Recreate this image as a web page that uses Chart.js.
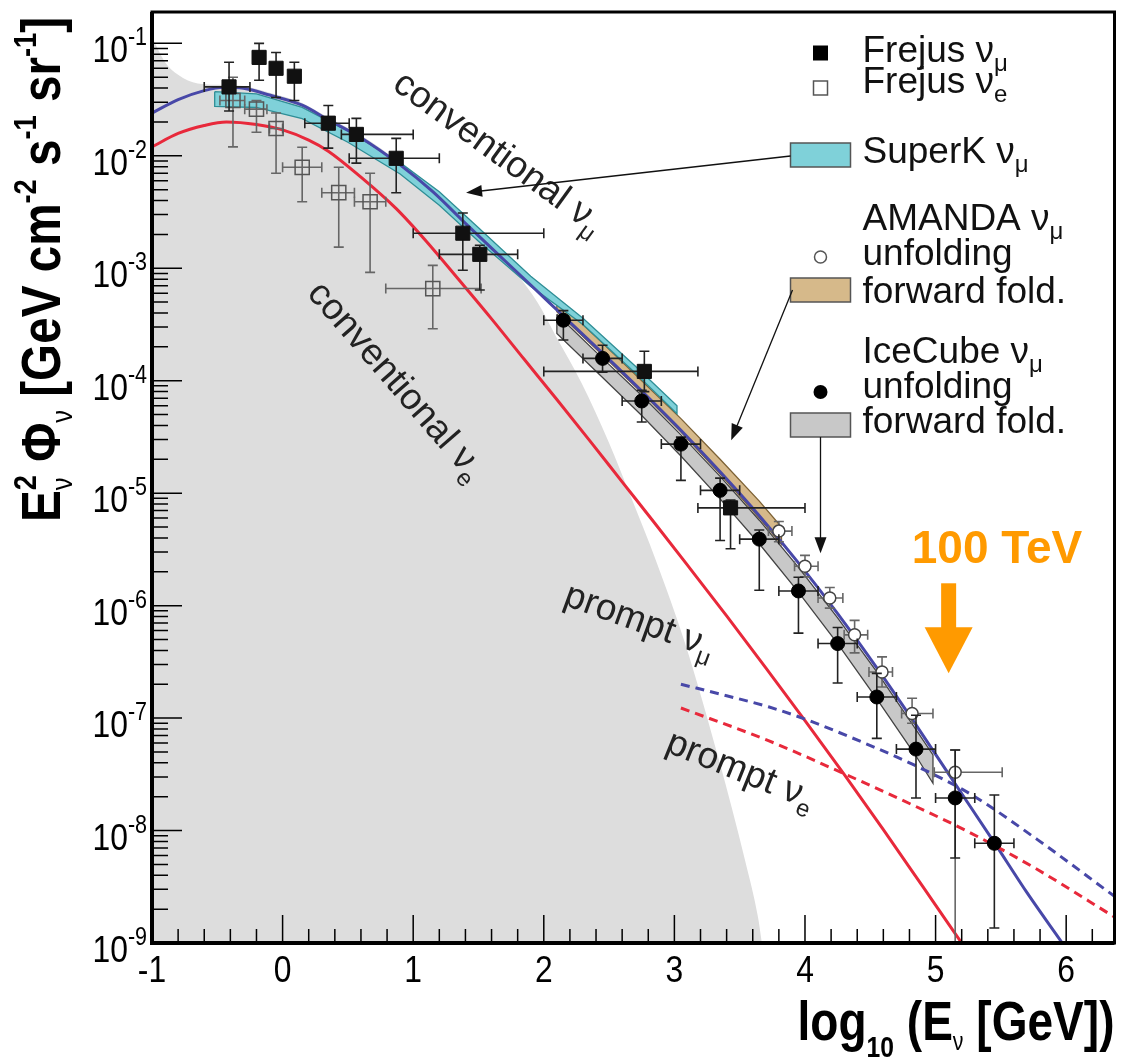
<!DOCTYPE html>
<html>
<head>
<meta charset="utf-8">
<title>Atmospheric neutrino spectrum</title>
<script src="https://cdn.jsdelivr.net/npm/chart.js@4.4.1/dist/chart.umd.min.js"></script>
<style>
  html, body { margin: 0; padding: 0; background: #fff; }
  canvas { display: block; }
</style>
</head>
<body>
<canvas id="nuSpectrum" width="1126" height="1059"></canvas>
<script>
// x: log10(E / GeV), y: E^2 * flux  [GeV cm^-2 s^-1 sr^-1]

// conventional nu_mu (blue) and nu_e (red) model curves
const convMuE = [-1.0, -0.8, -0.6, -0.45, -0.3, -0.1, 0.15, 0.35, 0.6, 0.9, 1.15, 1.4, 1.65, 1.9, 2.15, 2.45, 2.75, 3.05, 3.35, 3.65, 3.95, 4.25, 4.55, 4.85, 5.15, 5.45, 5.7, 5.97];
const convMuFlux = [2.4e-2, 3.16e-2, 3.8e-2, 4.07e-2, 3.98e-2, 3.47e-2, 2.82e-2, 2.09e-2, 1.45e-2, 8.3e-3, 4.8e-3, 2.51e-3, 1.33e-3, 7.1e-4, 3.76e-4, 1.76e-4, 8.1e-5, 3.63e-5, 1.55e-5, 6.3e-6, 2.4e-6, 8.5e-7, 2.8e-7, 8.7e-8, 2.6e-8, 7.8e-9, 2.8e-9, 1.0e-9];
const convEE = [-1.0, -0.8, -0.6, -0.43, -0.2, 0.0, 0.2, 0.35, 0.6, 0.87, 1.1, 1.35, 1.6, 1.85, 2.1, 2.35, 2.6, 2.85, 3.1, 3.4, 3.7, 4.0, 4.3, 4.6, 4.9, 5.2];
const convEFlux = [1.2e-2, 1.58e-2, 1.86e-2, 2.0e-2, 1.9e-2, 1.7e-2, 1.38e-2, 1.1e-2, 6.46e-3, 3.39e-3, 1.74e-3, 7.9e-4, 3.55e-4, 1.55e-4, 6.8e-5, 2.95e-5, 1.26e-5, 5.4e-6, 2.29e-6, 8.1e-7, 2.8e-7, 9.5e-8, 3.16e-8, 1.02e-8, 3.2e-9, 1.0e-9];

// prompt (charm) contributions, dashed
const promptMuE = [3.05, 3.4, 3.72, 4.0, 4.33, 4.8, 5.27, 5.78, 6.37];
const promptMuFlux = [2.0e-7, 1.58e-7, 1.26e-7, 9.8e-8, 6.9e-8, 4.0e-8, 2.1e-8, 8.3e-9, 2.6e-9];
const promptEE = [3.05, 3.72, 4.3, 4.8, 5.27, 5.78, 6.37];
const promptEFlux = [1.23e-7, 6.3e-8, 3.2e-8, 1.74e-8, 9.5e-9, 4.5e-9, 1.7e-9];

// light grey background region
const shadeE = [-0.99, -0.9, -0.8, -0.65, -0.45, -0.3, -0.1, 0.15, 0.35, 0.6, 0.9, 1.15, 1.4, 1.65, 1.8, 1.95, 2.1, 2.29, 2.5, 2.67, 2.86, 3.08, 3.34, 3.54, 3.64, 3.67];
const shadeFlux = [1.07e-1, 6.8e-2, 5.25e-2, 4.4e-2, 4.27e-2, 4.17e-2, 3.63e-2, 2.95e-2, 2.19e-2, 1.52e-2, 8.7e-3, 5.0e-3, 2.6e-3, 1.38e-3, 8.7e-4, 5.0e-4, 2.4e-4, 9.5e-5, 2.8e-5, 9.1e-6, 2.5e-6, 4.7e-7, 4.3e-8, 5.5e-9, 1.7e-9, 1.0e-9];

// SuperK nu_mu band
const superkE = [-0.52, -0.2, 0.15, 0.5, 0.9, 1.2, 1.5, 1.9, 2.3, 2.7, 3.02];
const superkHi = [3.72e-2, 3.55e-2, 2.69e-2, 1.66e-2, 8.7e-3, 4.79e-3, 2.29e-3, 8.5e-4, 3.6e-4, 1.35e-4, 6.0e-5];
const superkLo = [2.75e-2, 2.69e-2, 2.14e-2, 1.32e-2, 6.9e-3, 3.63e-3, 1.74e-3, 6.9e-4, 3.16e-4, 1.17e-4, 5.1e-5];

// AMANDA forward folding band
const amandaBandE = [2.1, 2.45, 2.75, 3.05, 3.35, 3.65, 3.82];
const amandaBandHi = [5.2e-4, 2.16e-4, 1.0e-4, 4.6e-5, 2.0e-5, 8.5e-6, 5.0e-6];
const amandaBandLo = [4.1e-4, 1.68e-4, 7.8e-5, 3.5e-5, 1.48e-5, 6.0e-6, 3.5e-6];

// IceCube forward folding band
const icecubeBandE = [2.1, 2.45, 2.75, 3.05, 3.35, 3.65, 3.95, 4.25, 4.55, 4.85, 4.98];
const icecubeBandHi = [3.9e-4, 1.58e-4, 7.4e-5, 3.3e-5, 1.41e-5, 5.75e-6, 2.19e-6, 7.8e-7, 2.57e-7, 7.9e-8, 4.7e-8];
const icecubeBandLo = [2.63e-4, 1.07e-4, 4.9e-5, 2.14e-5, 8.9e-6, 3.55e-6, 1.32e-6, 4.6e-7, 1.48e-7, 4.6e-8, 2.63e-8];

// Frejus nu_mu (filled squares)
const frejusMuE = [-0.41, -0.18, -0.05, 0.09, 0.35, 0.565, 0.87, 1.38, 1.51, 2.77, 3.43];
const frejusMuELo = [-0.6, null, null, null, 0.17, 0.45, 0.51, 1.0, 1.2, 2.0, 3.18];
const frejusMuEHi = [-0.25, null, null, null, 0.51, 1.0, 1.2, 2.0, 1.8, 3.18, 4.0];
const frejusMuFlux = [4.1e-2, 7.5e-2, 6.0e-2, 5.1e-2, 1.95e-2, 1.55e-2, 9.5e-3, 2.05e-3, 1.33e-3, 1.21e-4, 7.4e-6];
const frejusMuFluxLo = [2.5e-2, 4.7e-2, 3.3e-2, 3.1e-2, 1.17e-2, 8.6e-3, 4.7e-3, 9.6e-4, 6.4e-4, 8.0e-5, 3.2e-6];
const frejusMuFluxHi = [6.8e-2, 1.0e-1, 8.3e-2, 6.8e-2, 2.8e-2, 2.15e-2, 1.43e-2, 3.1e-3, 1.6e-3, 1.83e-4, 8.7e-6];

// Frejus nu_e (open squares)
const frejusEE = [-0.38, -0.2, -0.05, 0.15, 0.43, 0.67, 1.15];
const frejusEELo = [-0.48, -0.29, -0.1, 0.0, 0.3, 0.55, 0.79];
const frejusEEHi = [-0.29, -0.12, 0.0, 0.3, 0.55, 0.79, 1.52];
const frejusEFlux = [3.1e-2, 2.6e-2, 1.75e-2, 7.9e-3, 4.7e-3, 3.9e-3, 6.6e-4];
const frejusEFluxLo = [1.2e-2, 1.62e-2, 7.0e-3, 3.9e-3, 1.54e-3, 9.2e-4, 2.9e-4];
const frejusEFluxHi = [5.0e-2, 3.1e-2, 2.4e-2, 1.19e-2, 7.9e-3, 7.0e-3, 1.06e-3];

// AMANDA unfolding (open circles)
const amandaE = [3.8, 4.0, 4.19, 4.38, 4.59, 4.82, 5.15];
const amandaELo = [3.72, 3.92, 4.1, 4.3, 4.49, 4.74, 4.99];
const amandaEHi = [3.9, 4.1, 4.29, 4.48, 4.67, 4.98, 5.51];
const amandaFlux = [4.6e-6, 2.24e-6, 1.17e-6, 5.5e-7, 2.57e-7, 1.1e-7, 3.3e-8];
const amandaFluxLo = [3.7e-6, 1.8e-6, 9.5e-7, 3.8e-7, 1.89e-7, 9.0e-8, 1.0e-9];
const amandaFluxHi = [5.6e-6, 2.8e-6, 1.45e-6, 7.4e-7, 3.5e-7, 1.5e-7, 5.2e-8];

// IceCube unfolding (filled circles)
const icecubeE = [2.15, 2.45, 2.75, 3.05, 3.35, 3.65, 3.95, 4.25, 4.55, 4.85, 5.15, 5.45];
const icecubeELo = [2.0, 2.3, 2.6, 2.9, 3.2, 3.5, 3.8, 4.1, 4.4, 4.7, 5.0, 5.3];
const icecubeEHi = [2.3, 2.6, 2.9, 3.2, 3.5, 3.8, 4.1, 4.4, 4.7, 5.0, 5.3, 5.6];
const icecubeFlux = [3.45e-4, 1.58e-4, 6.6e-5, 2.73e-5, 1.06e-5, 3.9e-6, 1.35e-6, 4.6e-7, 1.54e-7, 5.3e-8, 1.95e-8, 7.7e-9];
const icecubeFluxLo = [2.3e-4, 1.19e-4, 4.3e-5, 1.3e-5, 3.8e-6, 1.37e-6, 5.7e-7, 2.05e-7, 6.6e-8, 1.95e-8, 5.7e-9, 1.36e-9];
const icecubeFluxHi = [4.2e-4, 2.07e-4, 8.2e-5, 3.15e-5, 1.36e-5, 4.7e-6, 1.79e-6, 6.4e-7, 2.5e-7, 1.06e-7, 5.2e-8, 2.07e-8];

// axis ticks
const xTickValues = [-1, 0, 1, 2, 3, 4, 5, 6];
const yTickExponents = [-1, -2, -3, -4, -5, -6, -7, -8, -9];

const FAMILY = '"Liberation Sans", Arial, Helvetica, sans-serif';
const font = (size, bold) => (bold ? 'bold ' : '') + size + 'px ' + FAMILY;

const pts = (xs, ys) => xs.map((v, i) => ({ x: v, y: ys[i] }));
const band = (xs, hi, lo) => [...pts(xs, hi), ...pts(xs, lo).reverse(), { x: xs[0], y: hi[0] }];
const errs = (xlo, xhi, ylo, yhi) => ylo.map((_, i) => ({ xlo: xlo[i], xhi: xhi[i], ylo: ylo[i], yhi: yhi[i] }));

// ---- rich text helpers (sub/superscripts) ----
function measureRich(ctx, parts) {
  let w = 0, held = 0;
  for (const p of parts) {
    ctx.font = font(p.s, p.b);
    const tw = ctx.measureText(p.t).width;
    if (p.keep) { held = Math.max(held, tw); continue; }
    w += Math.max(tw, held); held = 0;
  }
  return w + held;
}
function drawRich(ctx, parts) {
  let cx = 0, held = 0;
  for (const p of parts) {
    ctx.font = font(p.s, p.b);
    ctx.fillText(p.t, cx, p.dy || 0);
    const tw = ctx.measureText(p.t).width;
    if (p.keep) { held = Math.max(held, tw); continue; }
    cx += Math.max(tw, held); held = 0;
  }
}
function richAt(ctx, parts, x, y, opt = {}) {
  const sx = opt.sx || 1;
  const w = measureRich(ctx, parts) * sx;
  ctx.save();
  ctx.textAlign = 'left';
  ctx.textBaseline = 'alphabetic';
  ctx.fillStyle = opt.color || '#111';
  ctx.translate(x, y);
  if (opt.angle) ctx.rotate(opt.angle * Math.PI / 180);
  if (opt.align === 'right') ctx.translate(-w, 0);
  else if (opt.align === 'center') ctx.translate(-w / 2, 0);
  ctx.scale(sx, 1);
  drawRich(ctx, parts);
  ctx.restore();
}
function arrow(ctx, x1, y1, x2, y2, head = 16, half = 6) {
  const a = Math.atan2(y2 - y1, x2 - x1);
  ctx.beginPath();
  ctx.moveTo(x1, y1);
  ctx.lineTo(x2 - Math.cos(a) * head * 0.8, y2 - Math.sin(a) * head * 0.8);
  ctx.stroke();
  ctx.beginPath();
  ctx.moveTo(x2, y2);
  ctx.lineTo(x2 - Math.cos(a) * head - Math.sin(a) * half, y2 - Math.sin(a) * head + Math.cos(a) * half);
  ctx.lineTo(x2 - Math.cos(a) * head + Math.sin(a) * half, y2 - Math.sin(a) * head - Math.cos(a) * half);
  ctx.closePath();
  ctx.fill();
}

const sub = (t, s = 24) => ({ t, s, dy: 9 });

// rotated curve labels, anchored at the start of the baseline (data coords)
const curveLabels = [
  { e: 0.83, f: 4.0e-2, angle: 36, parts: [{ t: 'conventional ν', s: 37 }, sub('μ')] },
  { e: 0.18, f: 5.9e-4, angle: 49, parts: [{ t: 'conventional ν', s: 37 }, sub('e')] },
  { e: 2.14, f: 1.03e-6, angle: 20, parts: [{ t: 'prompt ν', s: 37 }, sub('μ')] },
  { e: 2.92, f: 5.1e-8, angle: 22, parts: [{ t: 'prompt ν', s: 37 }, sub('e')] }
];

// ---- error bars, drawn just before each marker dataset ----
const errorBars = {
  id: 'errorBars',
  beforeDatasetDraw(chart, args) {
    const ds = chart.data.datasets[args.index];
    if (!ds.errors) return;
    const { ctx, chartArea: ca, scales: { x, y } } = chart;
    const cap = 5;
    ctx.save();
    ctx.beginPath();
    ctx.rect(ca.left, ca.top, ca.width, ca.height);
    ctx.clip();
    ctx.strokeStyle = ds.errorColor;
    ctx.lineWidth = 1.6;
    ds.data.forEach((pt, i) => {
      const e = ds.errors[i];
      const px = x.getPixelForValue(pt.x), py = y.getPixelForValue(pt.y);
      ctx.beginPath();
      if (e.xlo != null) {
        const a = x.getPixelForValue(e.xlo), b = x.getPixelForValue(e.xhi);
        ctx.moveTo(a, py); ctx.lineTo(b, py);
        ctx.moveTo(a, py - cap); ctx.lineTo(a, py + cap);
        ctx.moveTo(b, py - cap); ctx.lineTo(b, py + cap);
      }
      if (e.ylo != null) {
        const a = y.getPixelForValue(e.ylo), b = y.getPixelForValue(e.yhi);
        ctx.moveTo(px, a); ctx.lineTo(px, b);
        ctx.moveTo(px - cap, a); ctx.lineTo(px + cap, a);
        ctx.moveTo(px - cap, b); ctx.lineTo(px + cap, b);
      }
      ctx.stroke();
    });
    ctx.restore();
  }
};

// ---- frame, inward ticks, tick labels, titles, annotations, legend ----
const decorations = {
  id: 'decorations',
  afterDraw(chart) {
    const { ctx, chartArea: ca, scales: { x, y } } = chart;
    ctx.save();
    ctx.strokeStyle = '#000';
    ctx.fillStyle = '#000';

    // y ticks (log, inside the frame)
    ctx.lineWidth = 1.5;
    ctx.beginPath();
    for (const ex of yTickExponents) {
      const base = Math.pow(10, ex);
      const py = y.getPixelForValue(base);
      ctx.moveTo(ca.left, py); ctx.lineTo(ca.left + 30, py);
      for (let k = 2; k <= 9; k++) {
        const v = k * base;
        if (v > y.max) break;
        const pk = y.getPixelForValue(v);
        ctx.moveTo(ca.left, pk); ctx.lineTo(ca.left + 16, pk);
      }
    }
    // x ticks
    for (let i = 0; i * 0.2 + x.min <= x.max + 1e-9; i++) {
      const v = x.min + i * 0.2;
      const px = x.getPixelForValue(v);
      const len = i % 5 === 0 ? 28 : 14;
      ctx.moveTo(px, ca.bottom); ctx.lineTo(px, ca.bottom - len);
    }
    ctx.stroke();

    // frame
    ctx.lineWidth = 3;
    ctx.strokeRect(ca.left, ca.top, ca.width, ca.height);
    ctx.lineWidth = 4;
    ctx.beginPath();
    ctx.moveTo(ca.left, ca.top); ctx.lineTo(ca.left, ca.bottom); ctx.lineTo(ca.right, ca.bottom);
    ctx.stroke();

    // tick labels
    for (const ex of yTickExponents) {
      const py = y.getPixelForValue(Math.pow(10, ex));
      richAt(ctx, [{ t: '10', s: 37 }, { t: '-' + Math.abs(ex), s: 25, dy: -17 }], ca.left - 5, py + 19, { align: 'right', sx: 0.86, color: '#000' });
    }
    for (const v of xTickValues) {
      const px = x.getPixelForValue(v);
      richAt(ctx, [{ t: String(v), s: 37 }], px, ca.bottom + 39, { align: 'center', sx: 0.86, color: '#000' });
    }

    // axis titles
    const xTitle = [{ t: 'log', s: 56, b: 1 }, { t: '10', s: 30, b: 1, dy: 17 }, { t: ' (E', s: 56, b: 1 }, { t: 'ν', s: 26, dy: 10 }, { t: ' [GeV])', s: 56, b: 1 }];
    const xw = measureRich(ctx, xTitle);
    richAt(ctx, xTitle, ca.right, ca.bottom + 97, { align: 'right', sx: 317 / xw, color: '#000' });

    const yTitle = [
      { t: 'E', s: 56, b: 1 }, { t: '2', s: 32, b: 1, dy: -24, keep: 1 }, { t: 'ν', s: 30, dy: 12 },
      { t: ' Φ', s: 56, b: 1 }, { t: 'ν', s: 30, dy: 12 },
      { t: ' [GeV cm', s: 56, b: 1 }, { t: '-2', s: 32, b: 1, dy: -24 },
      { t: ' s', s: 56, b: 1 }, { t: '-1', s: 32, b: 1, dy: -24 },
      { t: ' sr', s: 56, b: 1 }, { t: '-1', s: 32, b: 1, dy: -24 }, { t: ']', s: 56, b: 1 }
    ];
    const yw = measureRich(ctx, yTitle);
    richAt(ctx, yTitle, ca.left - 92, ca.top + 510, { angle: -90, sx: 505 / yw, color: '#000' });

    // curve labels
    for (const lab of curveLabels) {
      richAt(ctx, lab.parts, x.getPixelForValue(lab.e), y.getPixelForValue(lab.f), { angle: lab.angle, color: '#222' });
    }

    // legend
    const lx = ca.right - 252, mx = ca.right - 294, bx = ca.right - 324;
    const rows = [
      { o: 50, parts: [{ t: 'Frejus ν', s: 37 }, sub('μ')] },
      { o: 81, parts: [{ t: 'Frejus ν', s: 37 }, sub('e')] },
      { o: 151, parts: [{ t: 'SuperK ν', s: 37 }, sub('μ')] },
      { o: 218, parts: [{ t: 'AMANDA ν', s: 37 }, sub('μ')] },
      { o: 253, parts: [{ t: 'unfolding', s: 37 }] },
      { o: 291, parts: [{ t: 'forward fold.', s: 37 }] },
      { o: 351, parts: [{ t: 'IceCube ν', s: 37 }, sub('μ')] },
      { o: 386, parts: [{ t: 'unfolding', s: 37 }] },
      { o: 421, parts: [{ t: 'forward fold.', s: 37 }] }
    ];
    for (const r of rows) richAt(ctx, r.parts, lx, ca.top + r.o, { color: '#111' });

    ctx.lineWidth = 1.5;
    ctx.fillStyle = '#000';
    ctx.fillRect(mx - 7.5, ca.top + 41 - 7.5, 15, 15);
    ctx.strokeStyle = '#555';
    ctx.strokeRect(mx - 7, ca.top + 76 - 7, 14, 14);
    ctx.beginPath(); ctx.arc(mx, ca.top + 245, 6, 0, Math.PI * 2); ctx.stroke();
    ctx.fillStyle = '#000';
    ctx.beginPath(); ctx.arc(mx, ca.top + 380, 7, 0, Math.PI * 2); ctx.fill();

    const boxes = [[ca.top + 131, '#7fd1d9'], [ca.top + 266, '#d6b98a'], [ca.top + 401, '#c8c8c8']];
    for (const [by, col] of boxes) {
      ctx.fillStyle = col;
      ctx.fillRect(bx, by, 60, 24);
      ctx.strokeStyle = '#555';
      ctx.strokeRect(bx, by, 60, 24);
    }

    // pointer arrows from the legend boxes
    ctx.strokeStyle = '#111';
    ctx.fillStyle = '#111';
    ctx.lineWidth = 1.3;
    arrow(ctx, bx, ca.top + 144, x.getPixelForValue(1.405), y.getPixelForValue(4.7e-3));
    arrow(ctx, bx + 2, ca.top + 278, x.getPixelForValue(3.435), y.getPixelForValue(2.96e-5));
    arrow(ctx, mx, ca.top + 425, mx, y.getPixelForValue(2.93e-6));

    // 100 TeV marker
    const orange = '#ff9a00';
    richAt(ctx, [{ t: '100 TeV', s: 46, b: 1 }], x.getPixelForValue(5.47), y.getPixelForValue(2.39e-6), { align: 'center', color: orange });
    const ax = x.getPixelForValue(5.1);
    const top = y.getPixelForValue(1.58e-6), tip = y.getPixelForValue(2.5e-7);
    ctx.fillStyle = orange;
    ctx.fillRect(ax - 7.5, top, 15, tip - top - 44);
    ctx.beginPath();
    ctx.moveTo(ax - 24, tip - 46);
    ctx.lineTo(ax + 24, tip - 46);
    ctx.lineTo(ax, tip);
    ctx.closePath();
    ctx.fill();

    ctx.restore();
  }
};

const lineSet = (label, xs, ys, color, extra = {}) => Object.assign({
  label, data: pts(xs, ys), showLine: true, borderColor: color, borderWidth: 3,
  pointRadius: 0, fill: false, cubicInterpolationMode: 'monotone'
}, extra);

const bandSet = (label, xs, hi, lo, fillColor, edge, order) => ({
  label, data: band(xs, hi, lo), showLine: true, tension: 0,
  borderColor: edge, borderWidth: 1.3, backgroundColor: fillColor,
  fill: 'shape', pointRadius: 0, order
});

const markerSet = (label, xs, ys, style, extra) => Object.assign({
  label, data: pts(xs, ys), showLine: false, pointStyle: style
}, extra);

new Chart(document.getElementById('nuSpectrum'), {
  type: 'scatter',
  data: {
    datasets: [
      lineSet('shade', shadeE, shadeFlux, 'rgba(0,0,0,0)', { borderWidth: 0, fill: 'start', backgroundColor: '#dddddd', order: 30 }),
      bandSet('IceCube forward fold.', icecubeBandE, icecubeBandHi, icecubeBandLo, '#c8c8c8', '#444', 22),
      bandSet('AMANDA forward fold.', amandaBandE, amandaBandHi, amandaBandLo, '#d6b98a', '#7d6235', 21),
      bandSet('SuperK', superkE, superkHi, superkLo, '#7fd1d9', '#2f8e96', 20),
      lineSet('conventional nu_e', convEE, convEFlux, '#e8293b', { order: 12 }),
      lineSet('conventional nu_mu', convMuE, convMuFlux, '#4848a8', { order: 11 }),
      lineSet('prompt nu_mu', promptMuE, promptMuFlux, '#4848a8', { borderDash: [9, 6], order: 10 }),
      lineSet('prompt nu_e', promptEE, promptEFlux, '#e8293b', { borderDash: [9, 6], order: 9 }),
      markerSet('Frejus nu_e', frejusEE, frejusEFlux, 'rect', {
        pointRadius: 10, backgroundColor: 'rgba(0,0,0,0)', borderColor: '#555', pointBorderWidth: 1.5,
        errors: errs(frejusEELo, frejusEEHi, frejusEFluxLo, frejusEFluxHi), errorColor: '#666', order: 5
      }),
      markerSet('Frejus nu_mu', frejusMuE, frejusMuFlux, 'rect', {
        pointRadius: 10, backgroundColor: '#111', borderColor: '#111', pointBorderWidth: 1,
        errors: errs(frejusMuELo, frejusMuEHi, frejusMuFluxLo, frejusMuFluxHi), errorColor: '#222', order: 4
      }),
      markerSet('AMANDA unfolding', amandaE, amandaFlux, 'circle', {
        pointRadius: 6, backgroundColor: '#fff', borderColor: '#444', pointBorderWidth: 1.5,
        errors: errs(amandaELo, amandaEHi, amandaFluxLo, amandaFluxHi), errorColor: '#666', order: 3
      }),
      markerSet('IceCube unfolding', icecubeE, icecubeFlux, 'circle', {
        pointRadius: 7, backgroundColor: '#000', borderColor: '#000', pointBorderWidth: 1,
        errors: errs(icecubeELo, icecubeEHi, icecubeFluxLo, icecubeFluxHi), errorColor: '#222', order: 2
      })
    ]
  },
  options: {
    responsive: false,
    animation: false,
    layout: { padding: { left: 152, right: 9, top: 12, bottom: 116 } },
    plugins: { legend: { display: false }, tooltip: { enabled: false } },
    scales: {
      x: { type: 'linear', min: -1, max: 6.37, display: false },
      y: { type: 'logarithmic', min: 1e-9, max: 0.19, display: false }
    }
  },
  plugins: [errorBars, decorations]
});
</script>
</body>
</html>
